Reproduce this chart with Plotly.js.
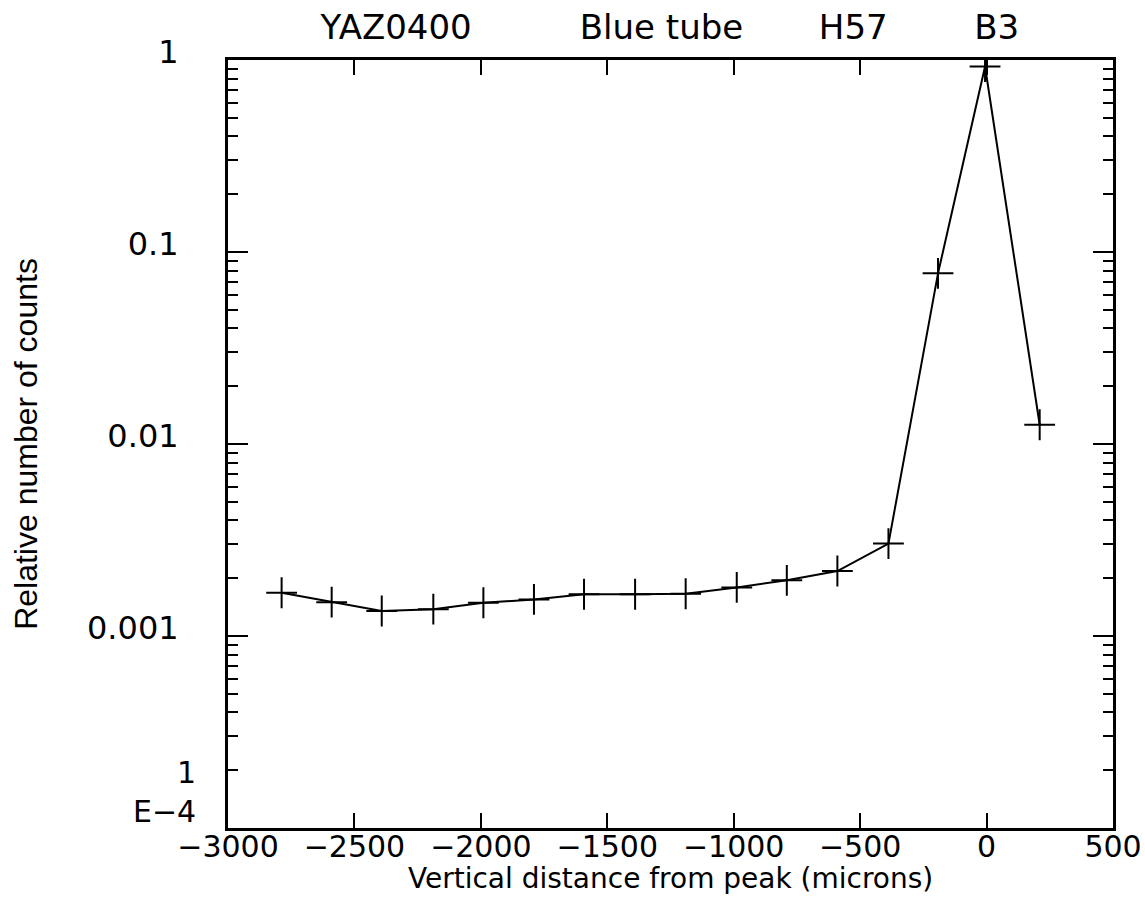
<!DOCTYPE html>
<html>
<head>
<meta charset="utf-8">
<script src="https://cdn.plot.ly/plotly-3.0.1.min.js"></script>
<style>html,body{margin:0;padding:0;background:#fff;}#chart{width:1145px;height:906px;}</style>
</head>
<body>
<div id="chart"></div>
<script>
// Data
var distance = [-2788, -2590, -2392, -2188, -1990, -1790, -1592, -1390, -1190, -988, -790, -590, -388, -192, -6, 210];
var counts = [0.00168, 0.00150, 0.00135, 0.00138, 0.00149, 0.00155, 0.00165, 0.00165, 0.00166, 0.00179, 0.00195, 0.00218, 0.00303, 0.0774, 0.925, 0.0126];

var xTickVals = [-3000, -2500, -2000, -1500, -1000, -500, 0, 500];
var xTickText = ['\u22123000', '\u22122500', '\u22122000', '\u22121500', '\u22121000', '\u2212500', '0', '500'];
var yTickVals = [1, 0.1, 0.01, 0.001];
var yTickText = ['1', '0.1', '0.01', '0.001'];
function gap(n) { return new Array(n + 1).join('\u00a0'); }
var titleText = 'YAZ0400' + gap(10) + 'Blue\u00a0tube' + gap(7) + 'H57' + gap(8) + 'B3';
var xTitle = 'Vertical distance from peak (microns)';
var yTitle = 'Relative number of counts';
var bottomLabel = '1<br>E\u22124';

var minorY = [];
[0.0001, 0.001, 0.01, 0.1].forEach(function (d) {
  for (var k = 2; k <= 9; k++) minorY.push(k * d);
});

var trace = {
  x: distance,
  y: counts,
  type: 'scatter',
  mode: 'lines+markers',
  line: {color: '#000', width: 2},
  marker: {symbol: 'cross-thin', size: 22, color: '#000', line: {color: '#000', width: 2}},
  hoverinfo: 'x+y'
};

var yTickFont = {family: 'DejaVu Sans', size: 32, color: '#000'};
var xTickFont = {family: 'DejaVu Sans', size: 30, color: '#000'};

var layout = {
  width: 1145,
  height: 906,
  paper_bgcolor: '#fff',
  plot_bgcolor: '#fff',
  showlegend: false,
  margin: {l: 228, r: 32, t: 60, b: 78, pad: 0},
  title: {
    text: titleText,
    font: {family: 'DejaVu Sans', size: 34, color: '#000'},
    x: 0.585, xanchor: 'center',
    y: 1 - 27 / 906, yanchor: 'middle'
  },
  xaxis: {
    type: 'linear',
    range: [-3000, 500],
    tickmode: 'array',
    tickvals: xTickVals,
    ticktext: xTickText,
    ticks: 'inside',
    ticklen: 15,
    tickwidth: 2,
    tickcolor: '#000',
    showline: true,
    linecolor: '#000',
    linewidth: 3,
    mirror: 'ticks',
    showgrid: false,
    zeroline: false,
    tickfont: xTickFont,
    ticklabelstandoff: -10
  },
  yaxis: {
    type: 'log',
    range: [-4, 0],
    tickmode: 'array',
    tickvals: yTickVals,
    ticktext: yTickText,
    ticks: 'inside',
    ticklen: 20,
    tickwidth: 2,
    tickcolor: '#000',
    showline: true,
    linecolor: '#000',
    linewidth: 3,
    mirror: 'ticks',
    showgrid: false,
    zeroline: false,
    tickfont: yTickFont,
    ticklabelstandoff: 40,
    ticklabelshift: -8,
    minor: {tickmode: 'array', tickvals: minorY, ticks: 'inside', ticklen: 10, tickwidth: 2, tickcolor: '#000', showgrid: false},
    title: {text: yTitle, font: {family: 'Liberation Sans', size: 32, color: '#000'}, standoff: 40}
  },
  annotations: [{
    text: bottomLabel,
    xref: 'paper', yref: 'paper',
    x: 0, y: (828 - 792) / 768,
    xanchor: 'right', yanchor: 'middle',
    xshift: -30,
    align: 'right',
    showarrow: false,
    font: {family: 'DejaVu Sans', size: 30, color: '#000'}
  }, {
    text: xTitle,
    xref: 'paper', yref: 'paper',
    x: 0.5, y: -(878 - 828) / 768,
    xanchor: 'center', yanchor: 'middle',
    showarrow: false,
    font: {family: 'DejaVu Sans', size: 28, color: '#000'}
  }]
};

Plotly.newPlot('chart', [trace], layout, {displayModeBar: false, staticPlot: true});
</script>
</body>
</html>
